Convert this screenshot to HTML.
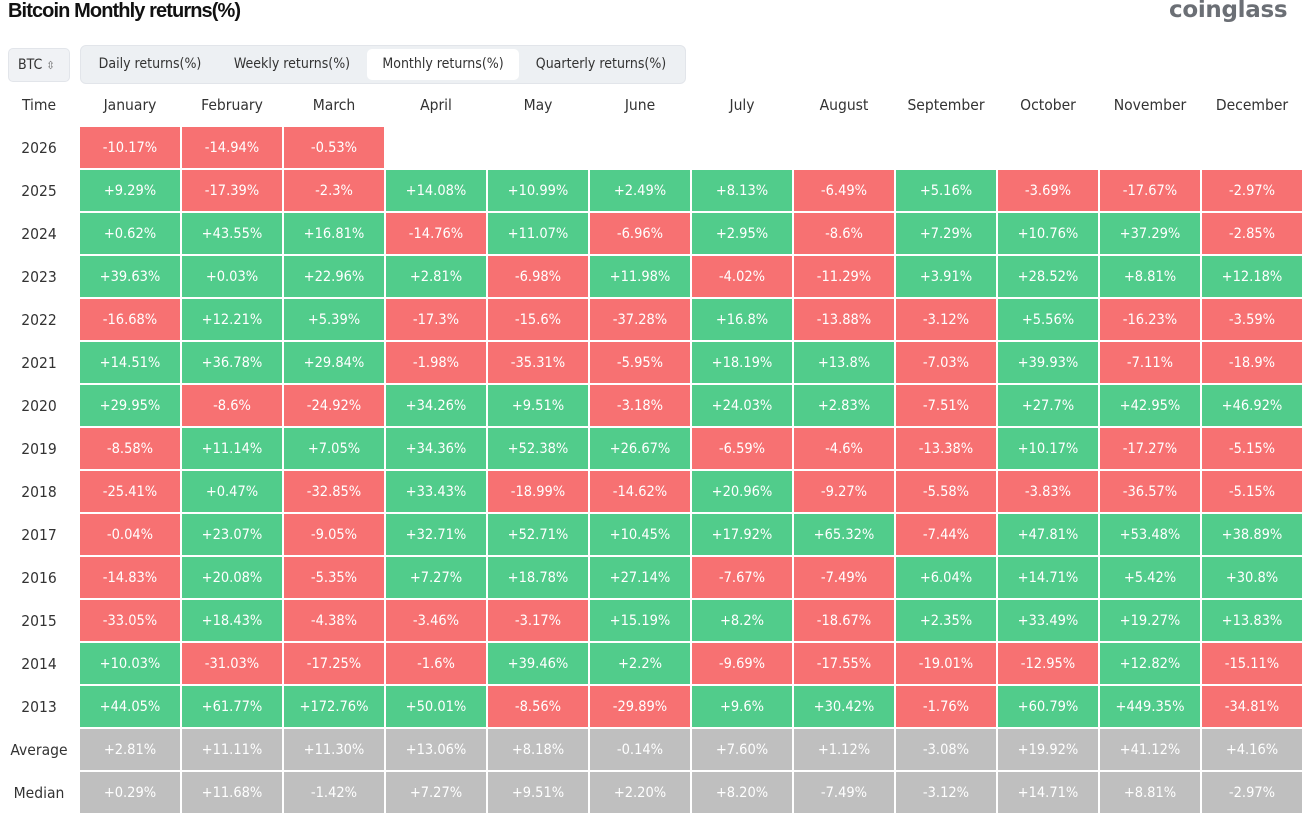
<!DOCTYPE html>
<html><head><meta charset="utf-8"><style>
body{margin:0;width:1308px;height:823px;background:#fff;font-family:"DejaVu Sans Condensed","Liberation Sans",sans-serif;position:relative;overflow:hidden;color:#333}
.title{position:absolute;left:8px;top:0;font:bold 20px "Liberation Sans",sans-serif;letter-spacing:-0.9px;color:#111}
.logo{position:absolute;left:1169px;top:-3px;font:bold 23px "DejaVu Sans","Liberation Sans",sans-serif;color:#6b6f75;letter-spacing:-0.3px}
.btc{position:absolute;left:8px;top:48px;width:60px;height:32px;border:1px solid #e2e5ea;background:#f0f2f5;border-radius:5px;font-size:14px;line-height:32px;text-indent:9px;color:#333}
.tabs{position:absolute;left:80px;top:45px;width:604px;height:37px;background:#edf0f3;border:1px solid #e2e5ea;border-radius:6px}
.tab{position:absolute;top:3px;height:31px;line-height:31px;font-size:14px;color:#333;text-align:center}
.tab.on{background:#fff;border-radius:5px}
.grid{position:absolute;left:0;top:84px;display:grid;grid-template-columns:78px repeat(12,100px);column-gap:2px;row-gap:2px;grid-template-rows:41px repeat(16,41px)}
.grid div{display:flex;align-items:center;justify-content:center;font-size:14.5px}
.h{color:#333;font-size:15.5px!important}
.r{background:#f77172;color:#fff}
.g{background:#51cc8b;color:#fff}
.a{background:#bfbfbf;color:#fff}
</style></head><body>
<div class="title">Bitcoin Monthly returns(%)</div>
<div class="logo">coinglass</div>
<div class="btc">BTC <span style="font-size:11px;color:#666">⇳</span></div>
<div class="tabs">
<div class="tab" style="left:4px;width:130px">Daily returns(%)</div>
<div class="tab" style="left:138px;width:146px">Weekly returns(%)</div>
<div class="tab on" style="left:286px;width:152px">Monthly returns(%)</div>
<div class="tab" style="left:440px;width:160px">Quarterly returns(%)</div>
</div>
<div class="grid">
<div class="h">Time</div><div class="h">January</div><div class="h">February</div><div class="h">March</div><div class="h">April</div><div class="h">May</div><div class="h">June</div><div class="h">July</div><div class="h">August</div><div class="h">September</div><div class="h">October</div><div class="h">November</div><div class="h">December</div>
<div class="h">2026</div><div class="r">-10.17%</div><div class="r">-14.94%</div><div class="r">-0.53%</div><div></div><div></div><div></div><div></div><div></div><div></div><div></div><div></div><div></div>
<div class="h">2025</div><div class="g">+9.29%</div><div class="r">-17.39%</div><div class="r">-2.3%</div><div class="g">+14.08%</div><div class="g">+10.99%</div><div class="g">+2.49%</div><div class="g">+8.13%</div><div class="r">-6.49%</div><div class="g">+5.16%</div><div class="r">-3.69%</div><div class="r">-17.67%</div><div class="r">-2.97%</div>
<div class="h">2024</div><div class="g">+0.62%</div><div class="g">+43.55%</div><div class="g">+16.81%</div><div class="r">-14.76%</div><div class="g">+11.07%</div><div class="r">-6.96%</div><div class="g">+2.95%</div><div class="r">-8.6%</div><div class="g">+7.29%</div><div class="g">+10.76%</div><div class="g">+37.29%</div><div class="r">-2.85%</div>
<div class="h">2023</div><div class="g">+39.63%</div><div class="g">+0.03%</div><div class="g">+22.96%</div><div class="g">+2.81%</div><div class="r">-6.98%</div><div class="g">+11.98%</div><div class="r">-4.02%</div><div class="r">-11.29%</div><div class="g">+3.91%</div><div class="g">+28.52%</div><div class="g">+8.81%</div><div class="g">+12.18%</div>
<div class="h">2022</div><div class="r">-16.68%</div><div class="g">+12.21%</div><div class="g">+5.39%</div><div class="r">-17.3%</div><div class="r">-15.6%</div><div class="r">-37.28%</div><div class="g">+16.8%</div><div class="r">-13.88%</div><div class="r">-3.12%</div><div class="g">+5.56%</div><div class="r">-16.23%</div><div class="r">-3.59%</div>
<div class="h">2021</div><div class="g">+14.51%</div><div class="g">+36.78%</div><div class="g">+29.84%</div><div class="r">-1.98%</div><div class="r">-35.31%</div><div class="r">-5.95%</div><div class="g">+18.19%</div><div class="g">+13.8%</div><div class="r">-7.03%</div><div class="g">+39.93%</div><div class="r">-7.11%</div><div class="r">-18.9%</div>
<div class="h">2020</div><div class="g">+29.95%</div><div class="r">-8.6%</div><div class="r">-24.92%</div><div class="g">+34.26%</div><div class="g">+9.51%</div><div class="r">-3.18%</div><div class="g">+24.03%</div><div class="g">+2.83%</div><div class="r">-7.51%</div><div class="g">+27.7%</div><div class="g">+42.95%</div><div class="g">+46.92%</div>
<div class="h">2019</div><div class="r">-8.58%</div><div class="g">+11.14%</div><div class="g">+7.05%</div><div class="g">+34.36%</div><div class="g">+52.38%</div><div class="g">+26.67%</div><div class="r">-6.59%</div><div class="r">-4.6%</div><div class="r">-13.38%</div><div class="g">+10.17%</div><div class="r">-17.27%</div><div class="r">-5.15%</div>
<div class="h">2018</div><div class="r">-25.41%</div><div class="g">+0.47%</div><div class="r">-32.85%</div><div class="g">+33.43%</div><div class="r">-18.99%</div><div class="r">-14.62%</div><div class="g">+20.96%</div><div class="r">-9.27%</div><div class="r">-5.58%</div><div class="r">-3.83%</div><div class="r">-36.57%</div><div class="r">-5.15%</div>
<div class="h">2017</div><div class="r">-0.04%</div><div class="g">+23.07%</div><div class="r">-9.05%</div><div class="g">+32.71%</div><div class="g">+52.71%</div><div class="g">+10.45%</div><div class="g">+17.92%</div><div class="g">+65.32%</div><div class="r">-7.44%</div><div class="g">+47.81%</div><div class="g">+53.48%</div><div class="g">+38.89%</div>
<div class="h">2016</div><div class="r">-14.83%</div><div class="g">+20.08%</div><div class="r">-5.35%</div><div class="g">+7.27%</div><div class="g">+18.78%</div><div class="g">+27.14%</div><div class="r">-7.67%</div><div class="r">-7.49%</div><div class="g">+6.04%</div><div class="g">+14.71%</div><div class="g">+5.42%</div><div class="g">+30.8%</div>
<div class="h">2015</div><div class="r">-33.05%</div><div class="g">+18.43%</div><div class="r">-4.38%</div><div class="r">-3.46%</div><div class="r">-3.17%</div><div class="g">+15.19%</div><div class="g">+8.2%</div><div class="r">-18.67%</div><div class="g">+2.35%</div><div class="g">+33.49%</div><div class="g">+19.27%</div><div class="g">+13.83%</div>
<div class="h">2014</div><div class="g">+10.03%</div><div class="r">-31.03%</div><div class="r">-17.25%</div><div class="r">-1.6%</div><div class="g">+39.46%</div><div class="g">+2.2%</div><div class="r">-9.69%</div><div class="r">-17.55%</div><div class="r">-19.01%</div><div class="r">-12.95%</div><div class="g">+12.82%</div><div class="r">-15.11%</div>
<div class="h">2013</div><div class="g">+44.05%</div><div class="g">+61.77%</div><div class="g">+172.76%</div><div class="g">+50.01%</div><div class="r">-8.56%</div><div class="r">-29.89%</div><div class="g">+9.6%</div><div class="g">+30.42%</div><div class="r">-1.76%</div><div class="g">+60.79%</div><div class="g">+449.35%</div><div class="r">-34.81%</div>
<div class="h">Average</div><div class="a">+2.81%</div><div class="a">+11.11%</div><div class="a">+11.30%</div><div class="a">+13.06%</div><div class="a">+8.18%</div><div class="a">-0.14%</div><div class="a">+7.60%</div><div class="a">+1.12%</div><div class="a">-3.08%</div><div class="a">+19.92%</div><div class="a">+41.12%</div><div class="a">+4.16%</div>
<div class="h">Median</div><div class="a">+0.29%</div><div class="a">+11.68%</div><div class="a">-1.42%</div><div class="a">+7.27%</div><div class="a">+9.51%</div><div class="a">+2.20%</div><div class="a">+8.20%</div><div class="a">-7.49%</div><div class="a">-3.12%</div><div class="a">+14.71%</div><div class="a">+8.81%</div><div class="a">-2.97%</div>
</div>
</body></html>
